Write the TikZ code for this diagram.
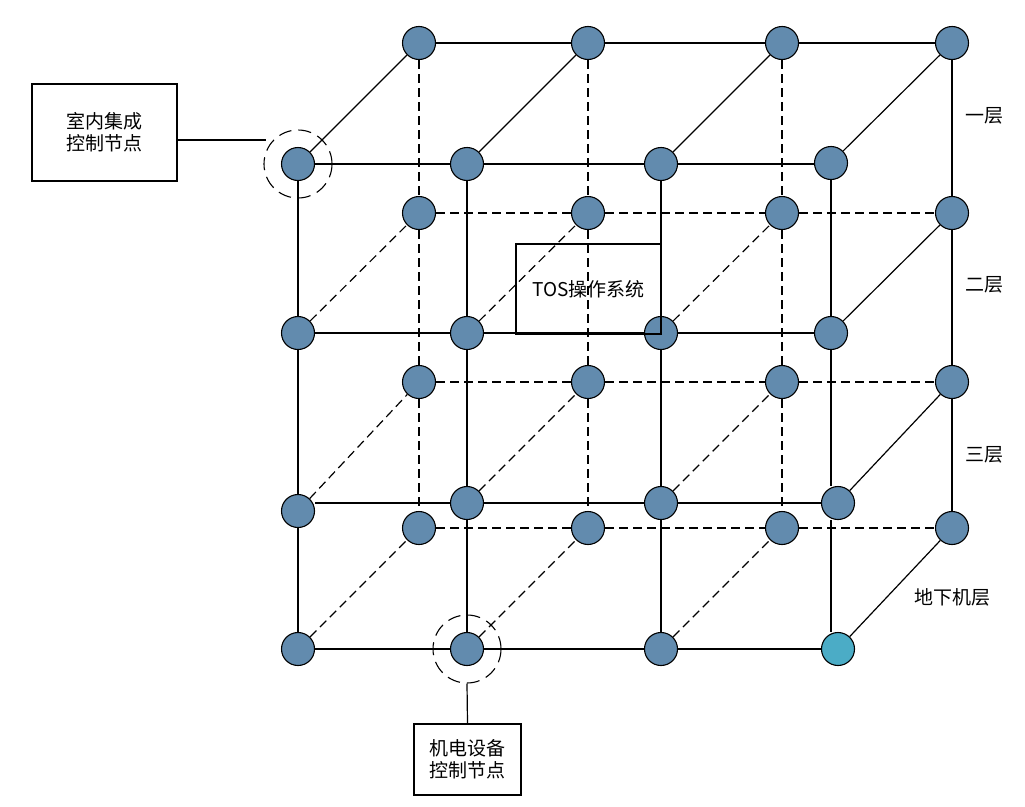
\documentclass[tikz,border=0pt]{standalone}
\usepackage{fontspec}
\setmainfont{Noto Sans CJK SC}
\usepackage{xcolor}
\usetikzlibrary{positioning}
\definecolor{nodeblue}{RGB}{98,139,174}
\definecolor{nodeteal}{RGB}{75,172,198}
\tikzset{
    dot/.style={circle,draw=black,fill=nodeblue,minimum size=33pt,inner sep=0pt,line width=1.1pt},
    ring/.style={circle,draw=black,minimum size=68pt,inner sep=0pt,line width=1.1pt,dash pattern=on 13pt off 7pt},
    hidden/.style={dash pattern=on 9pt off 5pt},
    box/.style={draw=black,line width=1.3pt,align=center,font=\fontsize{19}{22}\selectfont},
    floor/.style={font=\fontsize{19}{22}\selectfont}
}

\begin{document}
\begin{tikzpicture}[x=1pt,y=-1pt,line width=1.2pt]
    \useasboundingbox (0,0) rectangle (1025,806);

    % Front face
    \node[dot] (f11) at (298,164) {};
    \node[dot] (f12) at (467,164) {};
    \node[dot] (f13) at (661,164) {};
    \node[dot] (f14) at (831,163) {};
    \node[dot] (f21) at (298,333) {};
    \node[dot] (f22) at (467,333) {};
    \node[dot] (f23) at (661,333) {};
    \node[dot] (f24) at (831,333) {};
    \node[dot] (f31) at (298,511) {};
    \node[dot] (f32) at (467,503) {};
    \node[dot] (f33) at (661,503) {};
    \node[dot] (f34) at (838,503) {};
    \node[dot] (f41) at (298,649) {};
    \node[dot] (f42) at (467,649) {};
    \node[dot] (f43) at (661,649) {};
    \node[dot,fill=nodeteal] (f44) at (838,649) {};

    % Back face
    \node[dot] (b11) at (419,43) {};
    \node[dot] (b12) at (588,43) {};
    \node[dot] (b13) at (782,43) {};
    \node[dot] (b14) at (952,43) {};
    \node[dot] (b21) at (419,213) {};
    \node[dot] (b22) at (588,213) {};
    \node[dot] (b23) at (782,213) {};
    \node[dot] (b24) at (952,213) {};
    \node[dot] (b31) at (419,382) {};
    \node[dot] (b32) at (588,382) {};
    \node[dot] (b33) at (782,382) {};
    \node[dot] (b34) at (952,382) {};
    \node[dot] (b41) at (419,528) {};
    \node[dot] (b42) at (588,528) {};
    \node[dot] (b43) at (782,528) {};
    \node[dot] (b44) at (952,528) {};

    % Front grid
    \draw (f11) -- (f12) -- (f13) -- (f13 -| f14.west);
    \draw (f21) -- (f22) -- (f23) -- (f24);
    \draw (f31.east |- f32) -- (f32) -- (f33) -- (f34);
    \draw (f41) -- (f42) -- (f43) -- (f44);
    \draw (f11) -- (f21) -- (f31) -- (f41);
    \draw (f12) -- (f22) -- (f32) -- (f42);
    \draw (f13) -- (f23) -- (f33) -- (f43);
    \draw (f14) -- (f24) -- (f24 |- f34.north);
    \draw (f24 |- f34.south) -- (f24 |- f44.north);

    % Back grid, visible edges
    \draw (b11) -- (b12) -- (b13) -- (b14) -- (b24) -- (b34) -- (b44);
    % Back grid, hidden edges
    \draw[hidden] (b21) -- (b22) -- (b23) -- (b24);
    \draw[hidden] (b31) -- (b32) -- (b33) -- (b34);
    \draw[hidden] (b41) -- (b42) -- (b43) -- (b44);
    \draw[hidden] (b11) -- (b21) -- (b31) -- (b41);
    \draw[hidden] (b12) -- (b22) -- (b32) -- (b42);
    \draw[hidden] (b13) -- (b23) -- (b33) -- (b43);

    % Depth edges
    \draw (f11) -- (b11);
    \draw (f12) -- (b12);
    \draw (f13) -- (b13);
    \draw (f14) -- (b14);
    \draw (f24) -- (b24);
    \draw (f34) -- (b34);
    \draw (f44) -- (b44);
    \draw[hidden] (f21) -- (b21);
    \draw[hidden] (f22) -- (b22);
    \draw[hidden] (f23) -- (b23);
    \draw[hidden] (f31) -- (b31);
    \draw[hidden] (f32) -- (b32);
    \draw[hidden] (f33) -- (b33);
    \draw[hidden] (f41) -- (b41);
    \draw[hidden] (f42) -- (b42);
    \draw[hidden] (f43) -- (b43);

    % Control nodes
    \node[ring] (ringA) at (f11) {};
    \node[ring] (ringB) at (f42) {};
    \node[box,minimum width=145pt,minimum height=97pt] (boxA) at (104.5,132.5) {室内集成\\控制节点};
    \node[box,minimum width=107pt,minimum height=71pt] (boxB) at (467.5,759.5) {机电设备\\控制节点};
    \coordinate (jA) at (266,140);
    \draw (boxA.east |- jA) -- (jA);
    \draw (ringB.south) -- (boxB.north);

    % Operating system
    \node[box,minimum width=145pt,minimum height=90pt] (tos) at (588.5,289) {TOS操作系统};

    % Floors
    \node[floor] (floor1) at (984,116) {一层};
    \node[floor] (floor2) at (984,285) {二层};
    \node[floor] (floor3) at (984,455) {三层};
    \node[floor] (floor0) at (952,597) {地下机层};
\end{tikzpicture}
\end{document}
